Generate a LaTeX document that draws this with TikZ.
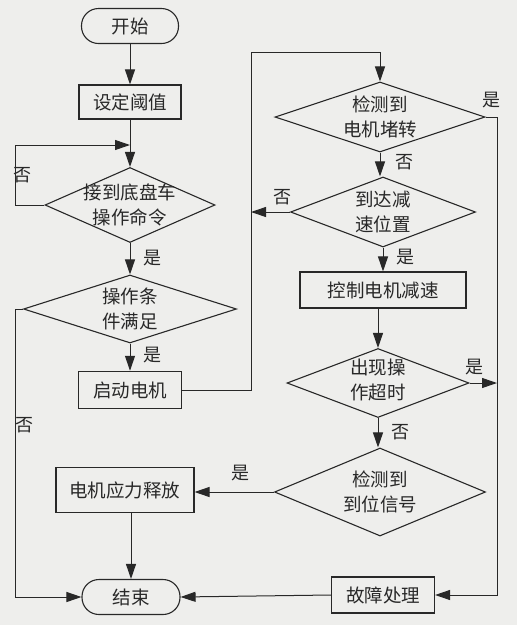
\documentclass[tikz,border=0pt]{standalone}
\usepackage{fontspec}
\setmainfont{Noto Sans CJK SC}
\usetikzlibrary{arrows.meta,shapes.geometric}
\definecolor{bg}{RGB}{238,238,236}
\definecolor{ln}{RGB}{40,40,40}
\tikzset{
  base/.style={draw=ln, line width=1.1pt, font=\fontsize{18.5}{25}\selectfont, text=ln, align=center, inner sep=0pt},
  term/.style={base, rounded corners=17pt, minimum width=97pt, minimum height=35pt},
  proc/.style={base, rectangle},
  dec/.style={base, diamond},
  dtext/.style={font=\fontsize{18.5}{25}\selectfont, text=ln, align=center, inner sep=0pt},
  arr/.style={draw=ln, line width=1pt, -{Triangle[length=15pt,width=10pt]}},
  lab/.style={font=\fontsize{18}{20}\selectfont, text=ln, inner sep=0pt}
}
\begin{document}
\begin{tikzpicture}[x=1pt,y=-1pt]
\fill[bg] (0,0) rectangle (517,625);
\useasboundingbox (0,0) rectangle (517,625);
% left column
\node[term] (start) at (130,26) {开始};
\node[proc, minimum width=102pt, minimum height=34pt] (set) at (130,102) {设定阈值};
\node[dec, minimum width=170pt, minimum height=75pt] (d1) at (130,205) {};
\node[dtext] (t1) at (d1) {接到底盘车\\操作命令};
\node[dec, minimum width=213pt, minimum height=68pt] (d2) at (130,309) {};
\node[dtext] (t2) at (d2) {操作条\\件满足};
\node[proc, line width=1.5pt, minimum width=103pt, minimum height=37pt] (motor) at (130,390) {启动电机};
\node[proc, minimum width=138pt, minimum height=45pt] (rel) at (125,490) {电机应力释放};
\node[term, minimum width=98pt, minimum height=35pt] (end) at (131,597) {结束};
% right column
\node[dec, minimum width=210pt, minimum height=70pt] (d3) at (380,117) {};
\node[dtext] (t3) at (d3) {检测到\\电机堵转};
\node[dec, minimum width=185pt, minimum height=70pt] (d4) at (383,212) {};
\node[dtext] (t4) at (d4) {到达减\\速位置};
\node[proc, minimum width=166pt, minimum height=36pt] (dec) at (383,290) {控制电机减速};
\node[dec, minimum width=182pt, minimum height=69pt] (d5) at (378,383) {};
\node[dtext] (t5) at ([yshift=3pt]d5.center) {出现操\\作超时};
\node[dec, minimum width=211pt, minimum height=88pt] (d6) at (380,492) {};
\node[dtext] (t6) at (d6) {检测到\\到位信号};
\node[proc, minimum width=103pt, minimum height=36pt] (fault) at (383,595) {故障处理};
% helper coordinates
\coordinate (lx) at (15,145);
\coordinate (r1) at (251,52);
\coordinate (r2) at (497,117);
% connectors
\draw[arr] (start) -- (set);
\draw[arr] (set) -- (d1);
\draw[arr] (d1.west) -- (d1.west -| lx) -- (lx) -- (lx -| set.south);
\node[lab] (n1) at (22,175) {否};
\draw[arr] (d1) -- (d2);
\node[lab] (y1) at (152,258) {是};
\draw[arr] (d2) -- (motor);
\node[lab] (y2) at (152,355) {是};
\draw[arr] (motor.east) -| (r1) -| (d3.north);
\draw[arr] (d3.east) -- (d3.east -| r2) |- (fault.east);
\node[lab] (y3) at (491,100) {是};
\draw[arr] (d3.south) -- (d3.south |- d4.north);
\node[lab] (n2) at (404,162) {否};
\draw[arr] (d4.west) -- (d4.west -| r1);
\node[lab] (n3) at (282,197) {否};
\draw[arr] (d4) -- (dec);
\node[lab] (y4) at (405,257) {是};
\draw[arr] (dec.south -| d5.north) -- (d5.north);
\draw[arr] (d5.east) -- (d5.east -| r2);
\node[lab] (y5) at (474,367) {是};
\draw[arr] (d5.south) -- (d5.south |- d6.north);
\node[lab] (n4) at (400,432) {否};
\draw[arr] (d6.west) -- (d6.west -| rel.east);
\node[lab] (y6) at (240,473) {是};
\draw[arr] (rel.south -| end.north) -- (end.north);
\draw[arr] (d2.west) -- (d2.west -| lx) |- (end.west);
\node[lab] (n5) at (25,425) {否};
\draw[arr] (fault.west) -- (end.east);
\end{tikzpicture}
\end{document}
